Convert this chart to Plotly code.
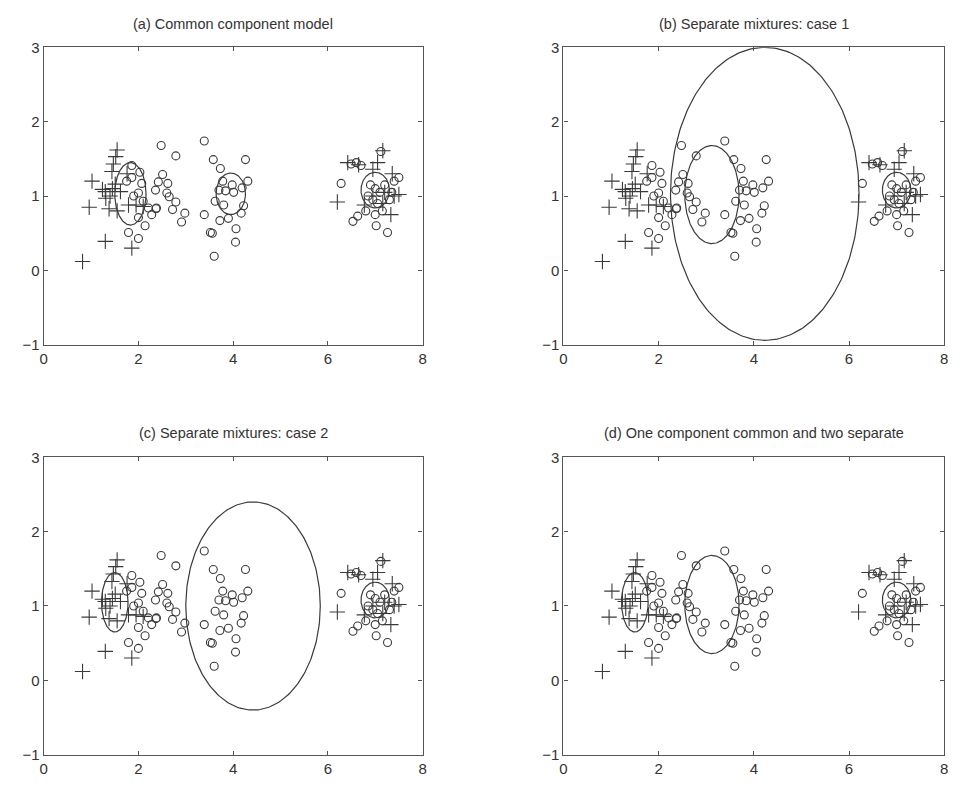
import numpy as np
import plotly.graph_objects as go

# ---- data: points shared by all four panels ----
plus_x = [1.55, 1.52, 1.47, 1.44, 1.02, 1.24, 1.30, 1.51, 1.62, 1.31, 0.96, 1.38, 1.55, 1.79, 1.95, 2.10, 1.76,
          1.30, 1.86, 0.82, 1.40, 1.45,
          7.16, 6.42, 7.05, 6.95, 7.36, 6.20, 7.50, 6.77, 7.16, 7.33, 6.65, 7.20, 6.95, 7.40]
plus_y = [1.62, 1.53, 1.43, 1.33, 1.20, 1.09, 1.06, 1.16, 1.06, 0.97, 0.85, 0.83, 0.80, 0.88, 0.88, 0.86, 1.30,
          0.39, 0.30, 0.12, 1.00, 1.10,
          1.61, 1.45, 1.45, 1.36, 1.30, 0.92, 1.02, 0.88, 0.90, 0.75, 1.42, 1.05, 1.00, 1.00]

circ_x = [1.86, 2.03, 1.86, 2.07, 2.00, 2.10, 2.21, 2.38, 2.00, 2.14, 2.28, 1.79, 2.00, 1.75, 1.90,
          2.48, 2.79, 2.51, 2.62, 2.42, 2.36, 2.60, 2.65, 2.79, 2.72, 2.98, 2.91, 2.37,
          3.39, 3.58, 3.73, 4.26, 3.78, 3.98, 4.31, 4.19, 4.01, 3.84, 3.70, 3.62, 3.80, 4.22, 4.17, 3.39, 3.72,
          3.90, 4.06, 3.52, 3.56, 4.05, 3.60,
          6.49, 6.70, 6.28, 7.50, 6.53, 7.02, 7.26, 6.63, 7.12, 6.90, 7.00, 7.10, 6.95, 7.05, 7.20, 6.85, 7.15,
          6.80, 7.00, 7.30, 7.40, 6.60, 7.35]
circ_y = [1.41, 1.32, 1.25, 1.17, 1.04, 0.93, 0.84, 0.84, 0.71, 0.60, 0.75, 0.51, 0.43, 1.20, 1.00,
          1.68, 1.54, 1.29, 1.17, 1.19, 1.08, 1.04, 0.99, 0.92, 0.82, 0.77, 0.65, 0.83,
          1.74, 1.49, 1.37, 1.49, 1.20, 1.15, 1.20, 1.11, 1.05, 1.07, 1.08, 0.93, 0.88, 0.87, 0.77, 0.75, 0.67,
          0.70, 0.56, 0.51, 0.50, 0.38, 0.19,
          1.43, 1.41, 1.17, 1.25, 0.66, 0.60, 0.51, 0.73, 1.60, 1.15, 1.10, 1.05, 0.95, 0.90, 1.15, 1.00, 0.80,
          0.80, 0.75, 0.95, 1.20, 1.45, 1.05]

# ---- ellipses per panel: centre x, centre y, semi-axis x, semi-axis y ----
panel_titles = ["(a) Common component model", "(b) Separate mixtures: case 1",
                "(c) Separate mixtures: case 2", "(d) One component common and two separate"]
ell_cx = [[1.83, 3.95, 7.00], [4.23, 3.12, 7.00], [1.50, 4.42, 7.00], [1.50, 3.12, 7.00]]
ell_cy = [[1.03, 1.03, 1.08], [1.03, 1.02, 1.08], [1.05, 1.00, 1.08], [1.05, 1.02, 1.08]]
ell_ax = [[0.33, 0.31, 0.30], [1.98, 0.57, 0.30], [0.28, 1.42, 0.30], [0.28, 0.57, 0.30]]
ell_ay = [[0.42, 0.28, 0.24], [1.97, 0.66, 0.24], [0.40, 1.40, 0.24], [0.40, 0.66, 0.24]]

x_ticks = [0, 2, 4, 6, 8]
y_ticks = [-1, 0, 1, 2, 3]

# page has an 8px body margin; build the figure to fill the rest of the window
OFF = 8
W, H = 975 - OFF, 795 - OFF


def px_x(p):
    return (p - OFF) / W


def px_y(p):
    return 1 - (p - OFF) / H


dom_x = [[px_x(40), px_x(422)], [px_x(564), px_x(948)], [px_x(40), px_x(422)], [px_x(564), px_x(948)]]
dom_y = [[px_y(343), px_y(39)], [px_y(343), px_y(39)], [px_y(762), px_y(458)], [px_y(762), px_y(458)]]
title_y = [px_y(15), px_y(15), px_y(433), px_y(433)]

ink = "#3a3a3a"
font_fam = "Liberation Sans, Arial, sans-serif"
fig = go.Figure()
t = np.linspace(0, 2 * np.pi, 241)
layout = {}
annotations = []
for i in range(4):
    sx = "" if i == 0 else str(i + 1)
    xa, ya = "x" + sx, "y" + sx
    fig.add_trace(go.Scatter(x=plus_x, y=plus_y, mode="markers", xaxis=xa, yaxis=ya,
                             marker=dict(symbol="cross-thin-open", size=11, color=ink,
                                         line=dict(color=ink, width=1.1)),
                             showlegend=False, hoverinfo="skip"))
    fig.add_trace(go.Scatter(x=circ_x, y=circ_y, mode="markers", xaxis=xa, yaxis=ya,
                             marker=dict(symbol="circle-open", size=8, color=ink, line=dict(color=ink, width=1.1)),
                             showlegend=False, hoverinfo="skip"))
    for k in range(len(ell_cx[i])):
        ex = ell_cx[i][k] + ell_ax[i][k] * np.cos(t)
        ey = ell_cy[i][k] + ell_ay[i][k] * np.sin(t)
        fig.add_trace(go.Scatter(x=ex, y=ey, mode="lines", xaxis=xa, yaxis=ya,
                                 line=dict(color=ink, width=1.2), showlegend=False, hoverinfo="skip"))
    common = dict(showgrid=False, zeroline=False, showline=True, linecolor="#555", linewidth=1.2,
                  mirror="allticks", ticks="inside", ticklen=4, tickcolor="#555",
                  tickfont=dict(family=font_fam, size=15, color="#333"))
    layout["xaxis" + sx] = dict(domain=dom_x[i], range=[0, 8], tickvals=x_ticks, anchor=ya, **common)
    layout["yaxis" + sx] = dict(domain=dom_y[i], range=[-1, 3], tickvals=y_ticks, anchor=xa,
                                ticktext=["\u22121", "0", "1", "2", "3"], **common)
    annotations.append(dict(text=panel_titles[i], xref="paper", yref="paper",
                            x=(dom_x[i][0] + dom_x[i][1]) / 2, y=title_y[i],
                            xanchor="center", yanchor="middle", showarrow=False,
                            font=dict(family=font_fam, size=14.5, color="#333")))

fig.update_layout(width=W, height=H, margin=dict(l=0, r=0, t=0, b=0), plot_bgcolor="white",
                  paper_bgcolor="white", annotations=annotations, **layout)
fig.write_html("out.html")
